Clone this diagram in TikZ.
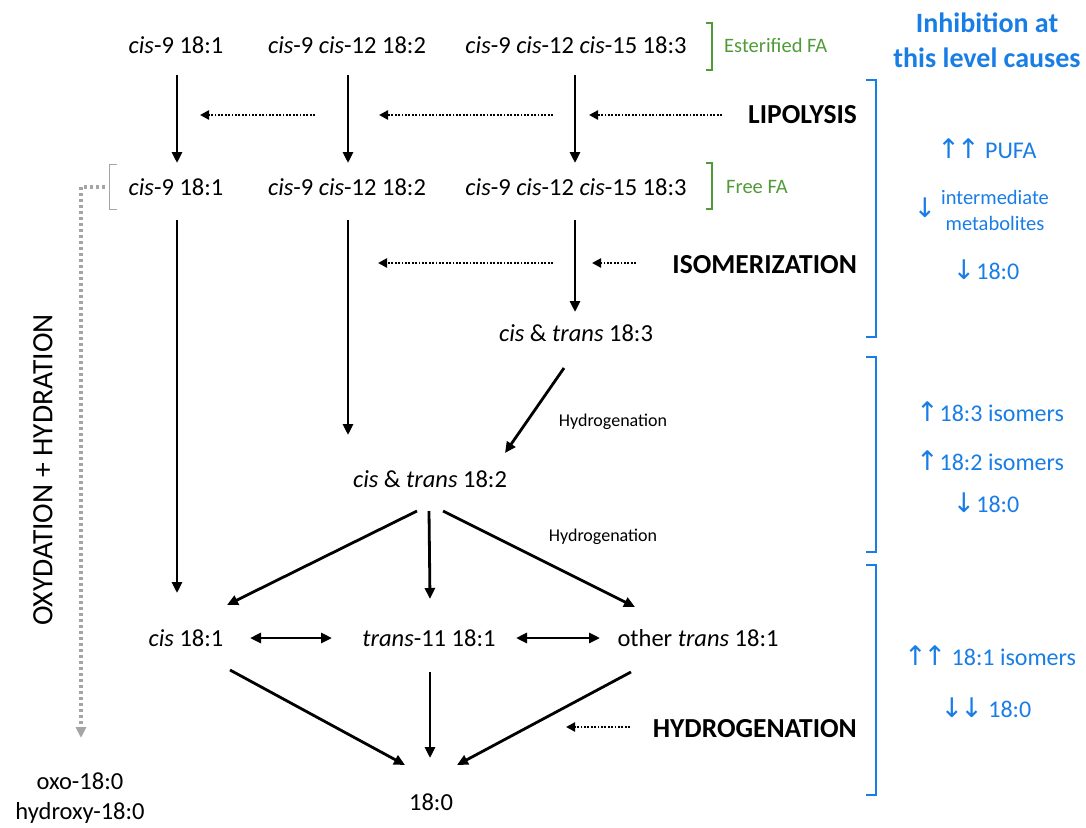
\documentclass[tikz,border=0pt]{standalone}
\usepackage{fontspec}
\setmainfont{Carlito}
\newfontfamily\symf{DejaVu Sans}
\usetikzlibrary{arrows.meta,calc}
\definecolor{bl}{RGB}{25,125,230}
\definecolor{gr}{RGB}{80,155,55}
\definecolor{gy}{RGB}{165,165,165}
\newcommand\upar{{\symf\fontsize{27}{28}\selectfont ↑}}
\newcommand\dnar{{\symf\fontsize{27}{28}\selectfont ↓}}
\tikzset{
  txt/.style={inner sep=0pt, font=\fontsize{24.5}{29}\selectfont},
  bigb/.style={inner sep=0pt, font=\fontsize{27.5}{32}\selectfont\bfseries},
  small/.style={inner sep=0pt, font=\fontsize{18}{21}\selectfont},
  grn/.style={inner sep=0pt, text=gr, font=\fontsize{20.5}{24}\selectfont},
  blt/.style={inner sep=0pt, text=bl, font=\fontsize{24}{28}\selectfont},
  arr/.style={line width=2.8pt, -{Triangle[length=11pt,width=10pt]}},
  darr/.style={line width=2.8pt, {Triangle[length=11pt,width=10pt]}-{Triangle[length=11pt,width=10pt]}},
  dotarr/.style={line width=2.5pt, dash pattern=on 1.8pt off 1.6pt, -{Triangle[length=9pt,width=9pt]}},
  grayarr/.style={gy, line width=3.4pt, dash pattern=on 3pt off 3pt, -{Triangle[length=11pt,width=10pt]}},
  brk/.style={line width=1.5pt}
}
\begin{document}
\begin{tikzpicture}[x=1pt,y=-1pt]
\useasboundingbox (0,0) rectangle (1086,827);
% row 1
\node[txt] (a1) at (176,45) {\textit{cis}-9 18:1};
\node[txt] (a2) at (347,45) {\textit{cis}-9 \textit{cis}-12 18:2};
\node[txt] (a3) at (576,45) {\textit{cis}-9 \textit{cis}-12 \textit{cis}-15 18:3};
\node[grn, anchor=west] (est) at (724,45) {Esterified FA};
% row 2
\node[txt] (b1) at (176,187) {\textit{cis}-9 18:1};
\node[txt] (b2) at (347,187) {\textit{cis}-9 \textit{cis}-12 18:2};
\node[txt] (b3) at (576,187) {\textit{cis}-9 \textit{cis}-12 \textit{cis}-15 18:3};
\node[grn, anchor=west] (free) at (726,187) {Free FA};
% middle
\node[txt] (t3) at (576,333) {\textit{cis} \& \textit{trans} 18:3};
\node[txt] (d2) at (430,479) {\textit{cis} \& \textit{trans} 18:2};
\node[txt] (c1) at (186,638) {\textit{cis} 18:1};
\node[txt] (c2) at (429,638) {\textit{trans}-11 18:1};
\node[txt] (c3) at (698,638) {other \textit{trans} 18:1};
\node[txt] (e) at (431,802) {18:0};
\node[txt, align=center, font=\fontsize{24.5}{30}\selectfont] (oxo) at (80,798) {oxo-18:0\\hydroxy-18:0};
\node[small] (h1) at (613,422) {Hydrogenation};
\node[small] (h2) at (603,537) {Hydrogenation};
% process labels
\node[bigb, anchor=east] (lip) at (857,115) {LIPOLYSIS};
\node[bigb, anchor=east] (iso) at (857,265) {ISOMERIZATION};
\node[bigb, anchor=east] (hyd) at (857,729) {HYDROGENATION};
\node[inner sep=0pt, rotate=90, font=\fontsize{29.5}{32}\selectfont] (oxy) at (43,470) {OXYDATION + HYDRATION};
% right column
\node[inner sep=0pt, text=bl, align=center, font=\fontsize{28}{35}\selectfont\bfseries] (inh) at (987,40) {Inhibition at\\this level causes};
\node[blt] (r1) at (987,149) {\upar\kern-3pt\upar\ PUFA};
\node[blt] (r2a) at (925,208) {\dnar};
\node[inner sep=0pt, text=bl, align=center, font=\fontsize{20.5}{26}\selectfont] (r2) at (995,210) {intermediate\\metabolites};
\node[blt] (r3) at (986,270) {\dnar\kern1pt18:0};
\node[blt] (r4) at (990,412) {\upar\kern1pt18:3 isomers};
\node[blt] (r5) at (990,461) {\upar\kern1pt18:2 isomers};
\node[blt] (r6) at (986,503) {\dnar\kern1pt18:0};
\node[blt] (r7) at (990,656) {\upar\kern-3pt\upar\ 18:1 isomers};
\node[blt] (r8) at (986,708) {\dnar\kern-3pt\dnar\ 18:0};
% brackets
\draw[gr, brk] (706,23) -- (712,23) -- (712,70) -- (706,70);
\draw[gr, brk] (706,163) -- (712,163) -- (712,209) -- (706,209);
\draw[gy, line width=1pt] (117,164) -- (109,164) -- (109,209) -- (117,209);
\coordinate (gbr) at (105,187);
\draw[bl, brk] (866,80) -- (876,80) -- (876,337) -- (866,337);
\draw[bl, brk] (866,357) -- (876,357) -- (876,552) -- (866,552);
\draw[bl, brk] (866,565) -- (876,565) -- (876,795) -- (866,795);
% solid arrows
\draw[arr] ($(a1)+(1,30)$) -- ($(b1)+(1,-24)$);
\draw[arr] ($(a2)+(1,30)$) -- ($(b2)+(1,-24)$);
\draw[arr] ($(a3)+(-1,30)$) -- ($(b3)+(-1,-24)$);
\draw[arr] ($(b1)+(1,33)$) -- ($(c1)+(-9,-45)$);
\draw[arr] ($(b2)+(1,33)$) -- ($(d2)+(-82,-44)$);
\draw[arr] ($(b3)+(-1,33)$) -- ($(t3)+(-1,-21)$);
\draw[arr] ($(t3)+(-12,35)$) -- ($(d2)+(75,-26)$);
\draw[arr] ($(d2)+(-13,32)$) -- ($(c1)+(41,-33)$);
\draw[arr] ($(d2)+(-1,32)$) -- ($(c2)+(1,-39)$);
\draw[arr] ($(d2)+(13,32)$) -- ($(c3)+(-63,-31)$);
\draw[darr] ($(c1)+(64,0)$) -- ($(c2)+(-97,0)$);
\draw[darr] ($(c2)+(87,0)$) -- ($(c3)+(-98,0)$);
\draw[arr] ($(c1)+(44,32)$) -- ($(e)+(-26,-37)$);
\draw[arr] ($(c2)+(1,34)$) -- ($(e)+(-1,-44)$);
\draw[arr] ($(c3)+(-67,34)$) -- ($(e)+(26,-37)$);
% dotted arrows
\coordinate (l1s) at (315,115); \coordinate (l1e) at (200,115);
\coordinate (l2s) at (553,115); \coordinate (l2e) at (379,115);
\coordinate (l3s) at (722,115); \coordinate (l3e) at (589,115);
\coordinate (i1s) at (553,263); \coordinate (i1e) at (378,263);
\coordinate (i2s) at (636,263); \coordinate (i2e) at (592,263);
\coordinate (h1s) at (630,727); \coordinate (h1e) at (566,727);
\draw[dotarr] (l1s) -- (l1e);
\draw[dotarr] (l2s) -- (l2e);
\draw[dotarr] (l3s) -- (l3e);
\draw[dotarr] (i1s) -- (i1e);
\draw[dotarr] (i2s) -- (i2e);
\draw[dotarr] (h1s) -- (h1e);
% gray oxidation arrow
\draw[grayarr] (gbr) -| ($(oxo)+(1,-60)$);
\end{tikzpicture}
\end{document}
